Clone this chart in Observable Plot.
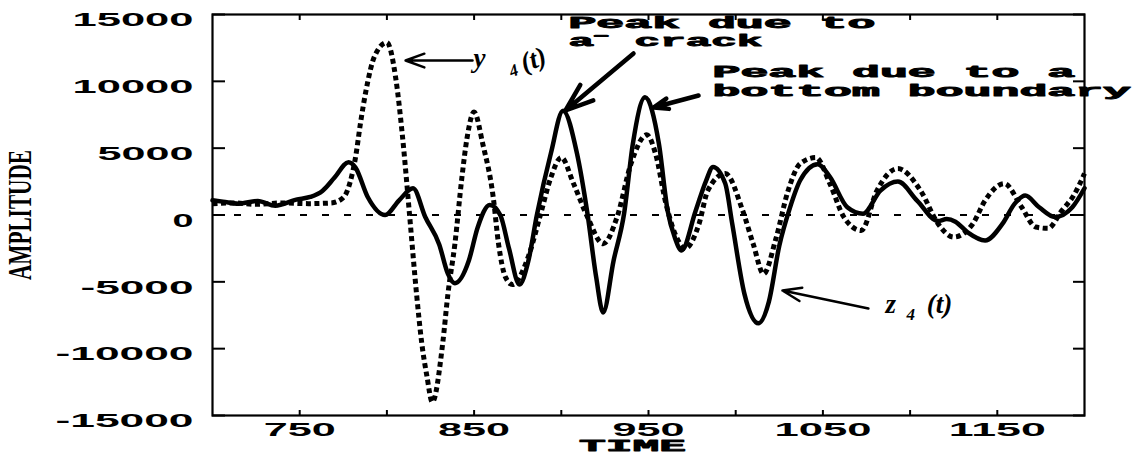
<!DOCTYPE html>
<html><head><meta charset="utf-8">
<script src="https://cdn.jsdelivr.net/npm/d3@7"></script>
<script src="https://cdn.jsdelivr.net/npm/@observablehq/plot@0.6"></script>
<style>body{margin:0;background:#fff}</style>
</head><body><div id="chart"></div>
<script>
// z4(t) – solid curve
const zTime = [700,706,715,726,736,748,756,763,770,778,782,789,799,807,815,822,830,835,839,847,852,859,865,870,876,881,886,894,901,909,915,920,924,930,936,941,948,956,961,965,969,977,983,987,994,998,1005,1013,1019,1025,1031,1037,1047,1054,1064,1073,1083,1093,1104,1116,1121,1126,1133,1143,1153,1160,1166,1174,1183,1193,1200];
const zAmp  = [1100,1000,850,1050,700,1150,1350,1800,2800,3950,3550,1350,0,1100,2000,-150,-2200,-4400,-5100,-3400,-950,750,0,-2500,-5200,-3500,0,4600,7800,4600,100,-4650,-7300,-3400,100,5300,8800,5300,300,-1650,-2650,300,2560,3600,2350,-650,-5900,-8100,-6500,-2300,500,2600,3800,2850,580,100,1830,2500,1080,-450,-300,-500,-1300,-1900,-650,850,1450,580,-150,580,2000];
// y4(t) – dotted curve
const yTime = [700,712,725,740,755,768,775,779,782,785,788,793,800,805,809,813,817,820,823,826,832,835,839,843,846,850,855,861,864,868,872,881,888,894,900,907,915,924,932,940,949,954,960,966,971,979,984,994,1004,1010,1016,1023,1030,1037,1046,1054,1062,1072,1081,1093,1106,1116,1125,1136,1143,1154,1164,1172,1179,1187,1194,1200];
const yAmp  = [850,900,800,900,850,900,1300,2500,4300,7000,9300,11900,12900,10300,5800,0,-5900,-9600,-12100,-14000,-9600,-5900,-2150,2800,5800,7700,5300,1300,-2150,-4650,-5200,-3150,0,2800,4300,2350,-150,-2150,-150,3850,6000,4600,850,-1650,-2500,-650,1830,3100,330,-2150,-4400,-1800,1800,3850,4300,2350,-150,-1160,1830,3470,1830,-650,-1650,-650,1080,2350,580,-900,-1000,330,1500,3100];

const xTicks = [750,800,850,900,950,1000,1050,1100,1150];
const xLabels = [750,850,950,1050,1150];
const yTicks = [-15000,-10000,-5000,0,5000,10000,15000];

// annotations (data coordinates)
const annText = ["Peak due to","a\u207B crack","Peak due to a","bottom boundary"];
const annTime = [904.1,904.1,986.7,986.7];
const annAmp  = [14027,12680,10324,8940];

const serText = ["y","(t)","z","(t)"];
const serTime = [849.7,878.8,1085.9,1109.5];
const serAmp  = [11109,10700,-7369,-7300];
const subText = ["4","4"];
const subTime = [871.5,1098.0];
const subAmp  = [10300,-7850];

const arrowFromT = [849.1,941.4,978.7,1076.1];
const arrowFromA = [11558,12082,8940,-6995];
const arrowToT   = [810.7,902.4,952.9,1026.8];
const arrowToA   = [11558,7818,8042,-5648];

const zData = zTime.map((t,i)=>({t, a:zAmp[i]}));
const yData = yTime.map((t,i)=>({t, a:yAmp[i]}));
const ann = annText.map((s,i)=>({s, t:annTime[i], a:annAmp[i]}));
const ser = serText.map((s,i)=>({s, t:serTime[i], a:serAmp[i], rot: i===1 ? -20 : 0}));
const sub = subText.map((s,i)=>({s, t:subTime[i], a:subAmp[i], rot: i===0 ? -20 : 0}));
const arrows = arrowFromT.map((t,i)=>({x1:t, y1:arrowFromA[i], x2:arrowToT[i], y2:arrowToA[i], i}));

const chart = Plot.plot({
  width: 1142, height: 456,
  marginTop: 14, marginBottom: 41, marginLeft: 212, marginRight: 58,
  style: {fontFamily: "Liberation Sans", fontSize: "18px", fontWeight: "bold", color: "black", background: "white", overflow: "visible"},
  x: {domain: [700, 1200]},
  y: {domain: [-15000, 15000]},
  marks: [
    Plot.ruleY([0], {stroke: "black", strokeWidth: 2, strokeDasharray: "7,15"}),
    Plot.line(yData, {x: "t", y: "a", stroke: "black", strokeWidth: 5, strokeDasharray: "5,3.5", strokeLinecap: "butt", curve: "monotone-x"}),
    Plot.line(zData, {x: "t", y: "a", stroke: "black", strokeWidth: 4.5, curve: "monotone-x"}),
    Plot.frame({stroke: "black", strokeWidth: 2.2}),
    Plot.axisY(yTicks, {anchor: "left", tickSize: -13, strokeWidth: 2, tickFormat: () => "", label: null}),
    Plot.axisY(yTicks, {anchor: "right", tickSize: -12, strokeWidth: 2, tickFormat: () => "", label: null}),
    Plot.axisY(yTicks, {anchor: "left", tickSize: 0, tickPadding: 19, dy: 6, tickFormat: d => String(d), label: null}),
    Plot.axisX(xTicks, {anchor: "bottom", tickSize: -5, strokeWidth: 2, tickFormat: () => "", label: null}),
    Plot.axisX(xTicks, {anchor: "top", tickSize: -5, strokeWidth: 2, tickFormat: () => "", label: null}),
    Plot.axisX(xLabels, {anchor: "bottom", tickSize: 0, tickPadding: 8, tickFormat: d => String(d), label: null}),
    Plot.text(["AMPLITUDE"], {text: d => d, frameAnchor: "left", rotate: -90, dx: -192, lineAnchor: "middle", textAnchor: "middle",
      fontFamily: "Liberation Serif", fontWeight: "bold", fontSize: 34, className: "ylab"}),
    Plot.text(["TIME"], {text: d => d, frameAnchor: "bottom", dx: -16, dy: 35, lineAnchor: "bottom", textAnchor: "middle",
      fontFamily: "Liberation Mono", fontWeight: "bold", fontSize: 17, fill: "black", stroke: "black", strokeWidth: 0.8, className: "xlab"}),
    Plot.text(ann, {x: "t", y: "a", text: "s", textAnchor: "start", lineAnchor: "bottom",
      fontFamily: "Liberation Mono", fontWeight: "bold", fontSize: 17, fill: "black", stroke: "black", strokeWidth: 0.9, className: "ann"}),
    Plot.text(ser, {x: "t", y: "a", text: "s", rotate: "rot", textAnchor: "start", lineAnchor: "bottom",
      fontFamily: "Liberation Serif", fontStyle: "italic", fontWeight: "bold", fontSize: 27}),
    Plot.text(sub, {x: "t", y: "a", text: "s", rotate: "rot", textAnchor: "start", lineAnchor: "bottom",
      fontFamily: "Liberation Serif", fontStyle: "italic", fontWeight: "bold", fontSize: 17}),
    Plot.arrow(arrows.filter(d => d.i === 0 || d.i === 3), {x1: "x1", y1: "y1", x2: "x2", y2: "y2", stroke: "black", strokeWidth: 2.5, headLength: 12, headAngle: 40}),
    Plot.arrow(arrows.filter(d => d.i === 1 || d.i === 2), {x1: "x1", y1: "y1", x2: "x2", y2: "y2", stroke: "black", strokeWidth: 4.5, headLength: 14, headAngle: 40})
  ]
});
document.getElementById("chart").appendChild(chart);

// horizontally widened lettering, as in the original figure
function stretch(sel, fn) {
  chart.querySelectorAll(sel).forEach(t => {
    const s = t.textContent;
    if (!s) return;
    t.setAttribute("textLength", fn(s));
    t.setAttribute("lengthAdjust", "spacingAndGlyphs");
  });
}
stretch('g[aria-label="y-axis tick label"] text', s => {
  const digits = s.replace("-", "").length;
  return 25 * digits - 4 + (s.startsWith("-") ? 17 : 0);
});
stretch('g[aria-label="x-axis tick label"] text', s => 25 * s.length - 3);
stretch('.ann text', s => s.startsWith("a") ? 194 : 27.9 * s.length);
stretch('.xlab text', s => 107);
stretch('.ylab text', s => 130);
</script>
</body></html>
